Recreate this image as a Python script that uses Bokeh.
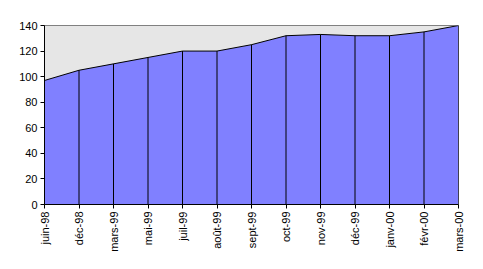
import math
from bokeh.plotting import figure
from bokeh.models import Range1d, FixedTicker, ColumnDataSource
from bokeh.embed import file_html
from bokeh.resources import INLINE

categories = ["juin-98", "déc-98", "mars-99", "mai-99", "juil-99", "août-99", "sept-99",
              "oct-99", "nov-99", "déc-99", "janv-00", "févr-00", "mars-00"]
values = [97, 105, 110, 115, 120, 120, 125, 132, 133, 132, 132, 135, 140]
y_ticks = [0, 20, 40, 60, 80, 100, 120, 140]

xs = list(range(len(categories)))
src = ColumnDataSource(dict(x=xs, y=values, zero=[0] * len(xs)))

p = figure(width=483, height=269, output_backend="svg", toolbar_location=None,
           x_range=Range1d(0, len(categories) - 1), y_range=Range1d(0, 140),
           min_border_left=44, min_border_right=25, min_border_top=25, min_border_bottom=65)
p.background_fill_color = "white"
p.border_fill_color = "white"
p.background_fill_color = "#E6E6E6"
p.outline_line_color = "#808080"
p.outline_line_width = 1
p.xgrid.visible = False
p.ygrid.visible = False

p.varea(x="x", y1="zero", y2="y", source=src, fill_color="#8080FF")
p.segment(x0="x", y0="zero", x1="x", y1="y", source=src, line_color="black", line_width=1)
p.line(x="x", y="y", source=src, line_color="black", line_width=1)

p.xaxis.ticker = FixedTicker(ticks=xs)
p.xaxis.major_label_overrides = {i: c for i, c in enumerate(categories)}
p.xaxis.major_label_orientation = math.pi / 2
p.yaxis.ticker = FixedTicker(ticks=y_ticks)

for ax in (p.xaxis[0], p.yaxis[0]):
    ax.axis_line_color = "black"
    ax.major_tick_line_color = "black"
    ax.major_tick_out = 4
    ax.major_tick_in = 0
    ax.minor_tick_line_color = None
    ax.major_label_text_font = "Liberation Sans"
    ax.major_label_text_font_size = "11px"
    ax.major_label_text_color = "black"
    ax.major_label_standoff = 3

open("out.html", "w").write(file_html(p, INLINE))
